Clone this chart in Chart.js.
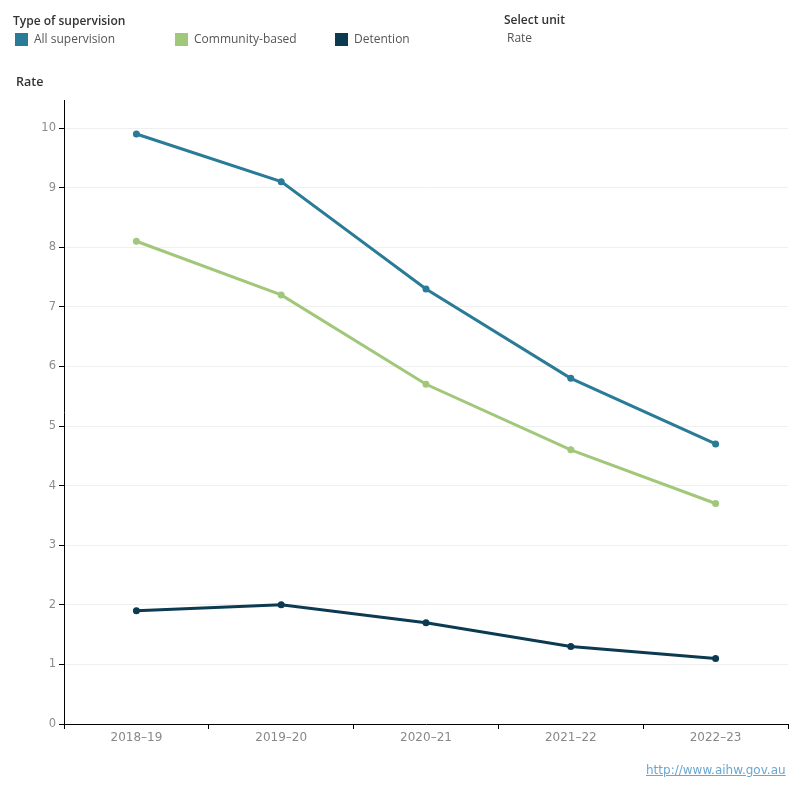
<!DOCTYPE html>
<html>
<head>
<meta charset="utf-8">
<script src="https://cdn.jsdelivr.net/npm/chart.js@4.4.0/dist/chart.umd.min.js"></script>
<style>
  html, body { margin:0; padding:0; background:#fff; }
  #wrap { position:relative; width:800px; height:800px; font-family:"Open Sans","Noto Sans",sans-serif; }
  canvas { position:absolute; left:0; top:0; }
  .t { position:absolute; white-space:nowrap; line-height:1; }
  .sw { position:absolute; width:13px; height:13px; }
</style>
</head>
<body>
<div id="wrap">
  <canvas id="c" width="800" height="800"></canvas>
  <div class="t" style="left:13px;top:15px;font-size:12px;color:#333;font-weight:600;">Type of supervision</div>
  <div class="sw" style="left:15px;top:33px;background:#2a7b97;"></div>
  <div class="t" style="left:34px;top:33px;font-size:12px;color:#555;">All supervision</div>
  <div class="sw" style="left:175px;top:33px;background:#a1c77b;"></div>
  <div class="t" style="left:194px;top:33px;font-size:12px;color:#555;">Community-based</div>
  <div class="sw" style="left:335px;top:33px;background:#0b3a51;"></div>
  <div class="t" style="left:354px;top:33px;font-size:12px;color:#555;">Detention</div>
  <div class="t" style="left:504px;top:14px;font-size:12px;color:#333;font-weight:600;">Select unit</div>
  <div class="t" style="left:507px;top:32px;font-size:12px;color:#555;">Rate</div>
  <div class="t" style="left:16px;top:76px;font-size:12.5px;color:#333;font-weight:600;">Rate</div>
  <div class="t" style="left:646px;top:764px;font-size:12px;color:#6aa7cf;text-decoration:underline;font-family:'DejaVu Sans',sans-serif;">http://www.aihw.gov.au</div>
</div>
<script>
const categories = ["2018\u201319", "2019\u201320", "2020\u201321", "2021\u201322", "2022\u201323"];
const allSupervision = [9.9, 9.1, 7.3, 5.8, 4.7];
const communityBased = [8.1, 7.2, 5.7, 4.6, 3.7];
const detention = [1.9, 2.0, 1.7, 1.3, 1.1];
const yTicks = [0, 1, 2, 3, 4, 5, 6, 7, 8, 9, 10];

function ds(label, data, color) {
  return { label, data, borderColor: color, backgroundColor: color, borderWidth: 3,
    pointRadius: 3.5, pointHoverRadius: 3.5, pointBorderWidth: 0, tension: 0 };
}

new Chart(document.getElementById('c'), {
  type: 'line',
  data: {
    labels: categories,
    datasets: [
      ds('Detention', detention, '#0b3a51'),
      ds('Community-based', communityBased, '#a1c77b'),
      ds('All supervision', allSupervision, '#2a7b97')
    ]
  },
  options: {
    responsive: false,
    animation: false,
    layout: { padding: { top: 100, right: 12, left: 0, bottom: 0 } },
    plugins: { legend: { display: false }, tooltip: { enabled: false } },
    scales: {
      x: {
        type: 'category',
        offset: true,
        grid: { offset: true, drawOnChartArea: false, color: '#000', tickColor: '#000', tickLength: 5 },
        border: { color: '#000', width: 1 },
        ticks: { color: '#888', font: { family: 'DejaVu Sans', size: 12 }, padding: 2, maxRotation: 0 },
        afterFit: (s) => { s.height = 76; }
      },
      y: {
        min: 0, max: 10.47,
        grid: { color: '#efefef', tickColor: '#000', tickLength: 5 },
        border: { color: '#000', width: 1 },
        afterBuildTicks: (s) => { s.ticks = yTicks.map(v => ({ value: v })); },
        ticks: { color: '#8c8c8c', font: { family: 'DejaVu Sans', size: 11.5 }, padding: 3 },
        afterFit: (s) => { s.width = 64; }
      }
    }
  }
});
</script>
</body>
</html>
